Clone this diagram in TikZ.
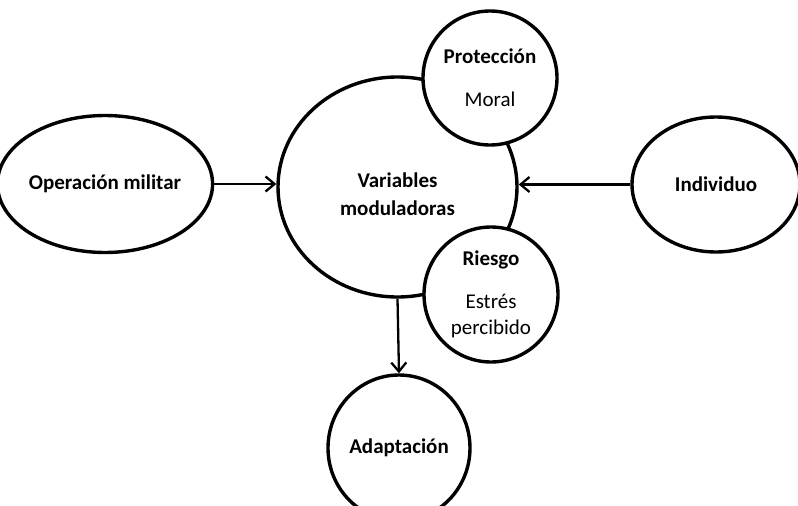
\documentclass[tikz,border=0pt]{standalone}
\usepackage{fontspec}
\setmainfont{Carlito}
\usetikzlibrary{shapes.geometric,arrows.meta}

\begin{document}
\begin{tikzpicture}[
        x=1pt, y=-1pt,
        oval/.style={draw, ellipse, line width=3.4pt, fill=white, inner sep=0pt},
        label text/.style={align=center, font=\fontsize{21}{26}\selectfont},
        link/.style={-{Straight Barb[length=9pt,width=15pt]}, line width=2.3pt}
    ]

    \useasboundingbox (0,0) rectangle (798,506);
    \clip (0,0) rectangle (798,506);

    \node[oval, label text, minimum width=184pt, minimum height=137pt] (mil) at (105,184) {\textbf{Operación militar}};
    \node[oval, minimum width=239pt, minimum height=220pt] (var) at (397.5,187) {};
    \node[label text, font=\fontsize{21}{28}\selectfont] (vartext) at ([yshift=-7pt]var.center) {\textbf{Variables}\\\textbf{moduladoras}};
    \node[oval, label text, minimum width=134pt, minimum height=134pt] (pro) at (490,78) {\textbf{Protección}\\[17pt]Moral};
    \node[oval, label text, minimum width=134pt, minimum height=135pt] (rie) at (491,294.5) {\textbf{Riesgo}\\[17pt]Estrés\\percibido};
    \node[oval, label text, minimum width=168pt, minimum height=135pt] (ind) at (716,184.5) {\textbf{Individuo}};
    \node[oval, label text, minimum width=142pt, minimum height=146pt] (ada) at (399,448) {\textbf{Adaptación}};

    \draw[link] (mil.east) -- (mil.east -| var.west);
    \draw[link] (ind.west) -- (ind.west -| var.east);
    \draw[link] (var.south) -- (ada.north);
\end{tikzpicture}
\end{document}
